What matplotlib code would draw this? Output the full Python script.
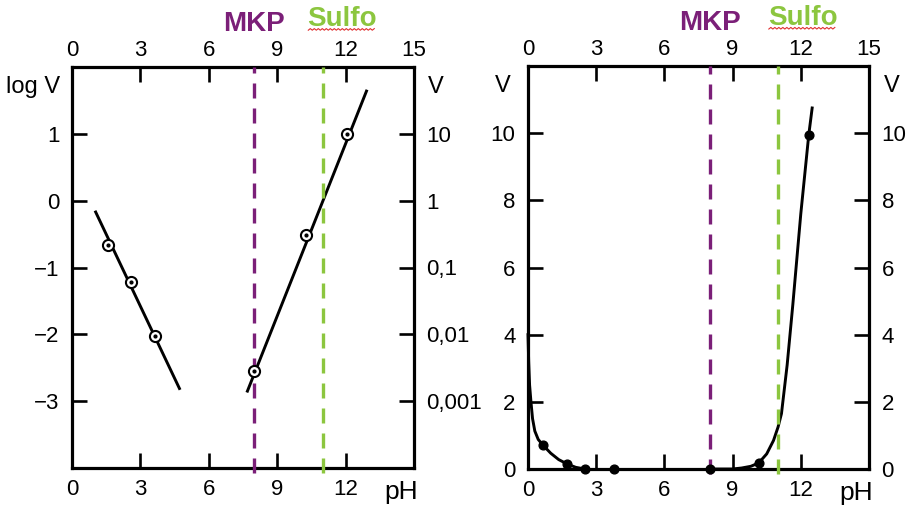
import numpy as np
import matplotlib
matplotlib.use("Agg")
import matplotlib.pyplot as plt
from matplotlib.lines import Line2D

# ---------------- data ----------------
ph_ticks = [0, 3, 6, 9, 12, 15]

# left panel (log V vs pH)
logv_ticks = [1, 0, -1, -2, -3]
logv_left_labels = ["1", "0", "\u22121", "\u22122", "\u22123"]
logv_right_labels = ["10", "1", "0,1", "0,01", "0,001"]

acid_pts_ph = [1.58, 2.59, 3.62]
acid_pts_logv = [-0.67, -1.22, -2.03]
acid_line_ph = [1.01, 4.74]
acid_line_logv = [-0.15, -2.83]

base_pts_ph = [7.98, 10.26, 12.05]
base_pts_logv = [-2.55, -0.51, 1.0]
base_line_ph = [7.67, 12.94]
base_line_logv = [-2.87, 1.66]

# right panel (V vs pH)
v_ticks = [10, 8, 6, 4, 2, 0]
v_labels = ["10", "8", "6", "4", "2", "0"]

v_pts_ph = [0.66, 1.72, 2.5, 3.8, 8.0, 10.15, 12.35]
v_pts_v = [0.71, 0.15, 0.0, 0.0, 0.0, 0.18, 9.95]

acid_curve_ph = [0.0, 0.03, 0.07, 0.13, 0.2, 0.3, 0.45, 0.66, 1.0, 1.35, 1.72, 2.1, 2.5]
acid_curve_v = [4.0, 3.2, 2.5, 2.0, 1.5, 1.13, 0.88, 0.71, 0.47, 0.28, 0.15, 0.05, 0.0]

base_curve_ph = [8.0, 9.0, 9.4, 9.8, 10.15, 10.5, 10.8, 11.0, 11.15, 11.4, 11.65, 12.0, 12.35, 12.5]
base_curve_v = [0.0, 0.0, 0.03, 0.08, 0.18, 0.45, 0.85, 1.25, 1.65, 3.1, 4.9, 7.6, 9.95, 10.75]

MKP_PH = 8.0
SULFO_PH = 11.0
markers = ["MKP", "Sulfo"]

# ---------------- style ----------------
FONT = "Liberation Sans"
FS = 16
plt.rcParams["font.family"] = [FONT, "DejaVu Sans"]

PURPLE = "#7B1F78"
GREEN = "#8CC63F"
LW = 2.1

fig = plt.figure(figsize=(9.09, 5.08), dpi=100)
W, H = 909.0, 508.0
axL = fig.add_axes([72 / W, 1 - 468 / H, 342 / W, 401 / H])
axR = fig.add_axes([528 / W, 1 - 469 / H, 341 / W, 403 / H])


def frame(ax, yticks, yl_left, yl_right, ylim):
    ax.set_xlim(0, 15)
    ax.set_ylim(*ylim)
    for s in ax.spines.values():
        s.set_linewidth(2.3)
        s.set_color("black")
    ax.set_xticks(ph_ticks)
    ax.set_xticklabels(["0", "3", "6", "9", "12", ""])
    ax.set_yticks(yticks)
    ax.set_yticklabels(yl_left)
    ax.tick_params(axis="both", direction="in", length=11, width=1.9,
                   top=True, right=True, labelsize=FS, colors="black")
    ax.tick_params(axis="x", pad=8)
    ax.tick_params(axis="y", pad=9)
    # top labels
    sx = ax.secondary_xaxis("top")
    sx.set_xticks(ph_ticks)
    sx.set_xticklabels([str(t) for t in ph_ticks])
    sx.tick_params(length=0, pad=4, labelsize=FS)
    for s in sx.spines.values():
        s.set_visible(False)
    # right labels
    sy = ax.secondary_yaxis("right")
    sy.set_yticks(yticks)
    sy.set_yticklabels(yl_right)
    sy.tick_params(length=0, pad=9, labelsize=FS)
    for s in sy.spines.values():
        s.set_visible(False)
    ax.text(14.45, -0.03, "pH", transform=ax.get_xaxis_transform(),
            ha="center", va="top", fontsize=FS + 3)


frame(axL, logv_ticks, logv_left_labels, logv_right_labels, (-4, 2))
frame(axR, v_ticks, v_labels, v_labels, (0, 12))

# labels of the ordinates
axL.text(-0.035, 0.95, "log V", transform=axL.transAxes, ha="right",
         va="center", fontsize=FS + 1)
axL.text(1.04, 0.95, "V", transform=axL.transAxes, ha="left",
         va="center", fontsize=FS + 1)
axR.text(-0.05, 0.95, "V", transform=axR.transAxes, ha="right",
         va="center", fontsize=FS + 1)
axR.text(1.045, 0.95, "V", transform=axR.transAxes, ha="left",
         va="center", fontsize=FS + 1)

# left panel data
axL.plot(acid_line_ph, acid_line_logv, color="black", lw=LW, solid_capstyle="butt")
axL.plot(base_line_ph, base_line_logv, color="black", lw=LW, solid_capstyle="butt")
for xs, ys in [(acid_pts_ph, acid_pts_logv), (base_pts_ph, base_pts_logv)]:
    axL.plot(xs, ys, ls="none", marker="o", ms=8, mfc="white", mec="black",
             mew=1.5, zorder=4)
    axL.plot(xs, ys, ls="none", marker="o", ms=2.0, color="black", zorder=5)

# right panel data
axR.plot(acid_curve_ph, acid_curve_v, color="black", lw=LW,
         solid_joinstyle="round", clip_on=False)
axR.plot(base_curve_ph, base_curve_v, color="black", lw=LW,
         solid_joinstyle="round")
axR.plot(v_pts_ph, v_pts_v, ls="none", marker="o", ms=6.3, color="black",
         zorder=5, clip_on=False)

# reference lines and labels
for ax, ylim, sulfo_dx in [(axL, (-4, 2), -0.68), (axR, (0, 12), -0.45)]:
    lo, hi = ylim
    ext = (hi - lo) * 0.013
    for x_ref, col in [(MKP_PH, PURPLE), (SULFO_PH, GREEN)]:
        ax.plot([x_ref, x_ref], [lo - ext, hi], color=col, lw=2.4,
                dashes=(4.5, 3.0), clip_on=False, zorder=3)
    ax.text(MKP_PH, 1.075, markers[0], transform=ax.get_xaxis_transform(),
            ha="center", va="bottom", color=PURPLE, fontsize=20,
            fontweight="bold", family=["Liberation Sans", "DejaVu Sans"])
    t = ax.text(SULFO_PH + sulfo_dx, 1.088, markers[1],
                transform=ax.get_xaxis_transform(), ha="left", va="bottom",
                color=GREEN, fontsize=20, fontweight="bold",
                family=["Liberation Sans", "DejaVu Sans"])
    # spell-check squiggle below "Sulfo"
    fig.canvas.draw()
    bb = t.get_window_extent()
    xs = np.arange(bb.x0 + 1, bb.x1 - 1, 2.0)
    ys = bb.y0 + 1.5 + np.where(np.arange(len(xs)) % 2 == 0, 0.0, 1.6)
    pts = fig.transFigure.inverted().transform(np.column_stack([xs, ys]))
    fig.add_artist(Line2D(pts[:, 0], pts[:, 1], color="#e03030", lw=0.8))

fig.savefig("out.png", dpi=100)
